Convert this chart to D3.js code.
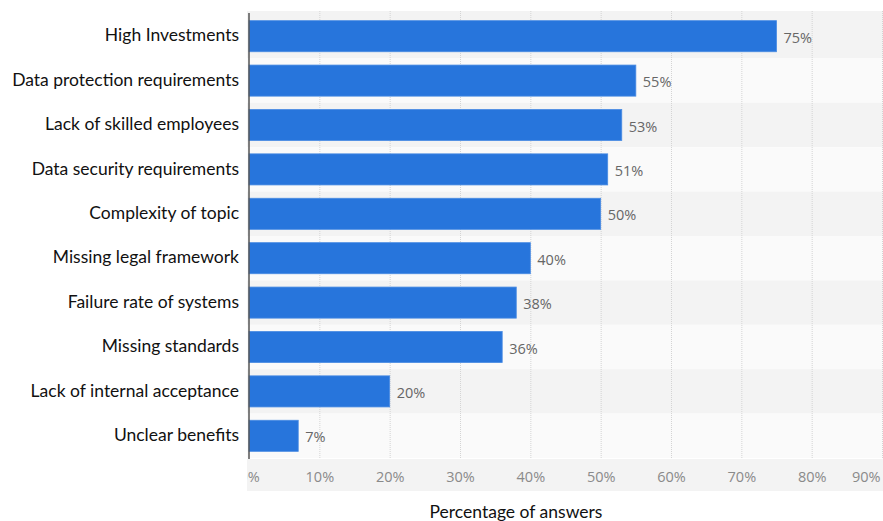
<!DOCTYPE html>
<html>
<head>
<meta charset="utf-8">
<script src="https://cdn.jsdelivr.net/npm/d3@7"></script>
<style>
  body { margin: 0; background: #fff; }
  svg { display: block; }
</style>
</head>
<body>
<div id="chart"></div>
<script>
var categories = [
    "High Investments",
    "Data protection requirements",
    "Lack of skilled employees",
    "Data security requirements",
    "Complexity of topic",
    "Missing legal framework",
    "Failure rate of systems",
    "Missing standards",
    "Lack of internal acceptance",
    "Unclear benefits"
];
var values = [75, 55, 53, 51, 50, 40, 38, 36, 20, 7];
var tickValues = [0, 10, 20, 30, 40, 50, 60, 70, 80, 90];
var axisTitle = "Percentage of answers";

var width = 883, height = 521;
var plotLeft = 249, plotTop = 14, plotBottom = 458;

var svg = d3.select("#chart").append("svg")
    .attr("width", width)
    .attr("height", height);

var x = d3.scaleLinear().domain([0, 90]).range([plotLeft, 882]);
var y = d3.scaleBand().domain(categories).range([plotTop, plotBottom]).padding(0);
var barH = y.bandwidth() * 0.7;

// clip for the plot + tick strip
svg.append("clipPath").attr("id", "plotclip")
  .append("rect").attr("x", 247).attr("y", 0).attr("width", width - 247).attr("height", height);

var plot = svg.append("g").attr("clip-path", "url(#plotclip)");

// row bands
plot.selectAll("rect.band")
    .data(categories)
    .enter().append("rect")
    .attr("class", "band")
    .attr("x", 247)
    .attr("y", function (d, i) { return i == 0 ? 11 : y(d); })
    .attr("width", width - 247)
    .attr("height", function (d, i) { return i == 0 ? y.step() + (y(d) - 11) : y.step(); })
    .style("fill", function (d, i) { return i % 2 == 0 ? "#f3f3f3" : "#fafafa"; });

// tick strip
plot.append("rect")
    .attr("x", 247).attr("y", plotBottom + 1)
    .attr("width", width - 247).attr("height", 32)
    .style("fill", "#f3f3f3");

// vertical grid lines
plot.selectAll("line.grid")
    .data(tickValues.slice(1))
    .enter().append("line")
    .attr("class", "grid")
    .attr("x1", function (d) { return x(d) + 0.5; })
    .attr("x2", function (d) { return x(d) + 0.5; })
    .attr("y1", 11).attr("y2", plotBottom)
    .style("stroke", "#d4d4d4")
    .style("stroke-width", 1)
    .style("stroke-dasharray", "1,1");

// bars
plot.selectAll("rect.bar")
    .data(values)
    .enter().append("rect")
    .attr("class", "bar")
    .attr("x", x(0))
    .attr("y", function (d, i) { return y(categories[i]) + (y.bandwidth() - barH) / 2; })
    .attr("width", function (d) { return x(d) - x(0); })
    .attr("height", barH)
    .style("fill", "#2775dc")
    .style("stroke", "#4a8ce3")
    .style("stroke-width", 0.8);

// value labels
plot.selectAll("text.val")
    .data(values)
    .enter().append("text")
    .attr("class", "val")
    .attr("x", function (d) { return x(d) + 7; })
    .attr("y", function (d, i) { return y(categories[i]) + y.bandwidth() / 2; })
    .attr("dy", "0.45em")
    .style("font-family", "'Open Sans', sans-serif")
    .style("font-size", "14.5px")
    .style("fill", "#666")
    .text(function (d) { return d + "%"; });

// x axis tick labels
var xAxis = d3.axisBottom(x)
    .tickValues(tickValues)
    .tickSize(0)
    .tickFormat(function (d) { return d + "%"; });

var gx = plot.append("g")
    .attr("transform", "translate(0," + (plotBottom + 11) + ")")
    .call(xAxis);
gx.select(".domain").remove();
gx.selectAll("text")
    .style("font-family", "'Open Sans', sans-serif")
    .style("font-size", "14.5px")
    .style("fill", "#8a8a8a");
// last label is pulled inside the plot edge
gx.selectAll(".tick").filter(function (d) { return d == 90; })
    .select("text")
    .attr("text-anchor", "end")
    .attr("x", -2);

// left axis line
svg.append("line")
    .attr("x1", plotLeft).attr("x2", plotLeft)
    .attr("y1", 13).attr("y2", plotBottom + 1)
    .style("stroke", "#555")
    .style("stroke-width", 1.5);

// category labels
var yAxis = d3.axisLeft(y).tickSize(0).tickPadding(10);
var gy = svg.append("g")
    .attr("transform", "translate(" + plotLeft + ",0)")
    .call(yAxis);
gy.select(".domain").remove();
gy.selectAll("text")
    .attr("dy", "0.3em")
    .style("font-family", "Lato, sans-serif")
    .style("font-size", "17.5px")
    .style("fill", "#111");

// axis title
svg.append("text")
    .attr("x", 516)
    .attr("y", 518)
    .attr("text-anchor", "middle")
    .style("font-family", "Lato, sans-serif")
    .style("font-size", "17.5px")
    .style("fill", "#111")
    .text(axisTitle);
</script>
</body>
</html>
